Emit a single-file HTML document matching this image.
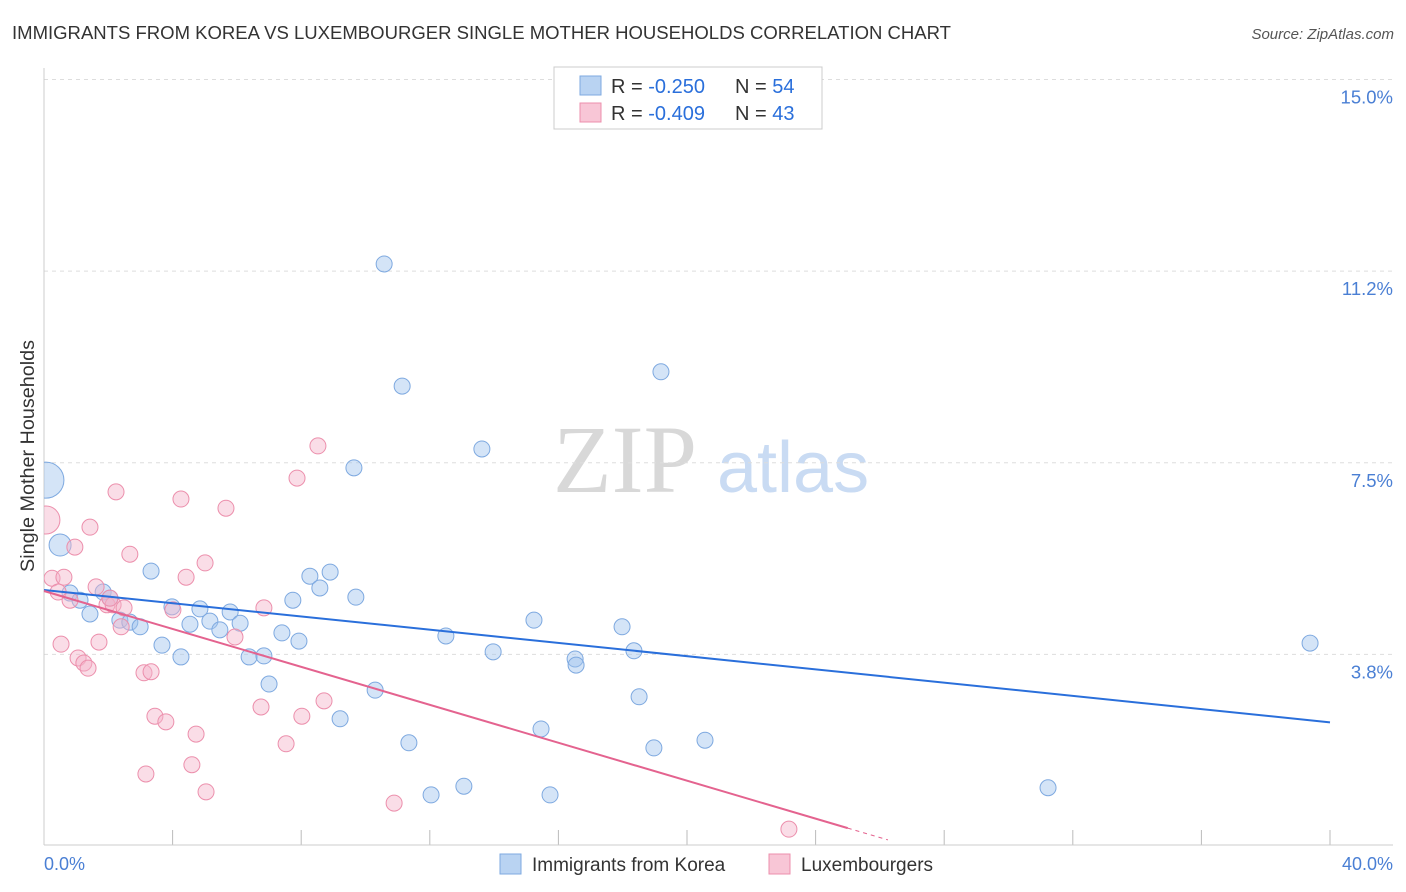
<!DOCTYPE html>
<html><head><meta charset="utf-8"><style>
body{margin:0;background:#fff;font-family:"Liberation Sans",sans-serif;}
svg{display:block}
</style></head><body>
<svg width="1406" height="892" xmlns="http://www.w3.org/2000/svg">
<defs><clipPath id="plotclip"><rect x="44" y="60" width="1360" height="786"/></clipPath></defs>
<text x="12" y="39" font-size="18" fill="#333" textLength="939" lengthAdjust="spacingAndGlyphs">IMMIGRANTS FROM KOREA VS LUXEMBOURGER SINGLE MOTHER HOUSEHOLDS CORRELATION CHART</text>
<text x="1394" y="39" font-size="15" fill="#555" font-style="italic" text-anchor="end">Source: ZipAtlas.com</text>
<g>
<text x="553" y="492" font-size="96" font-family="Liberation Serif,serif" fill="#d8d8d8">ZIP</text>
<text x="717" y="492" font-size="72" fill="#c9dbf3">atlas</text>
</g>
<g id="grid"></g>
<line x1="44" y1="68" x2="44" y2="845" stroke="#ccc"/>
<line x1="44" y1="845" x2="1393" y2="845" stroke="#ccc"/>
<text x="34" y="456" font-size="19" fill="#333" text-anchor="middle" textLength="232" lengthAdjust="spacingAndGlyphs" transform="rotate(-90 34 456)">Single Mother Households</text>
<text x="44" y="870" font-size="18" fill="#4a7fd4">0.0%</text>
<text x="1393" y="870" font-size="18" fill="#4a7fd4" text-anchor="end">40.0%</text>
<g id="pts" clip-path="url(#plotclip)"></g>
<g id="lines"></g>
<g>
<rect x="554" y="67" width="268" height="62" fill="#fff" stroke="#ccc"/>
<rect x="580" y="76" width="21" height="19" fill="#b9d3f2" stroke="#7ea9e0"/>
<rect x="580" y="103" width="21" height="19" fill="#f8c6d6" stroke="#ec8fac"/>
<text x="611" y="93" font-size="20" fill="#333">R = <tspan fill="#2a6fdb">-0.250</tspan><tspan x="735">N = </tspan><tspan fill="#2a6fdb">54</tspan></text>
<text x="611" y="120" font-size="20" fill="#333">R = <tspan fill="#2a6fdb">-0.409</tspan><tspan x="735">N = </tspan><tspan fill="#2a6fdb">43</tspan></text>
</g>
<g>
<rect x="500" y="854" width="21" height="20" fill="#b9d3f2" stroke="#7ea9e0"/>
<text x="532" y="871" font-size="19" fill="#333">Immigrants from Korea</text>
<rect x="769" y="854" width="21" height="20" fill="#f8c6d6" stroke="#ec8fac"/>
<text x="801" y="871" font-size="19" fill="#333">Luxembourgers</text>
</g>
</svg>
<script>
const yTicks=[15.0,11.2,7.5,3.8];
const yTickVals=[15,11.25,7.5,3.75];
const xTickVals=[4,8,12,16,20,24,28,32,36,40];
const blueX=[0.06,0.50,0.81,1.12,1.43,1.84,2.05,2.36,2.67,2.99,3.33,3.67,3.98,4.26,4.54,4.85,5.16,5.47,5.79,6.10,6.38,6.84,7.00,7.40,7.74,7.93,8.27,8.58,8.90,9.21,9.64,9.70,10.30,10.58,11.14,11.35,12.04,12.50,13.06,13.62,13.97,15.24,15.46,15.74,16.52,16.55,17.98,18.35,18.51,18.97,19.19,20.56,31.23,39.38];
const blueY=[7.16,5.89,4.95,4.81,4.54,4.97,4.85,4.42,4.38,4.29,5.38,3.93,4.68,3.70,4.34,4.64,4.40,4.23,4.58,4.36,3.70,3.72,3.17,4.17,4.81,4.01,5.28,5.05,5.36,2.49,7.40,4.87,3.05,11.39,9.00,2.02,1.00,4.11,1.17,7.77,3.80,4.42,2.29,1.00,3.66,3.54,4.29,3.82,2.92,1.92,9.28,2.07,1.14,3.97];
const blueSize=[18,11];
const pinkX=[0.06,0.25,0.44,0.62,0.81,0.53,0.96,1.43,1.62,1.71,1.06,1.24,1.37,1.96,2.15,2.05,2.24,2.49,2.40,2.67,3.11,3.33,3.17,3.45,3.79,4.01,4.26,4.42,4.60,4.73,5.01,5.04,5.66,5.94,6.75,6.84,7.53,7.87,8.02,8.52,8.71,10.89,23.17];
const pinkY=[6.38,5.24,4.97,5.26,4.81,3.95,5.85,6.24,5.07,3.99,3.68,3.58,3.48,4.72,4.72,4.85,6.93,4.66,4.29,5.71,3.39,3.41,1.41,2.54,2.43,4.62,6.79,5.26,1.59,2.19,5.54,1.06,6.61,4.09,2.72,4.66,2.00,7.20,2.54,7.83,2.84,0.84,0.33];
const pinkSize=[14];
const blueTrend=[5.01,2.42];
const pinkTrend=[4.99,0.35,0.12];
const pinkTrendX=[0,25.0,26.25];
const NS='http://www.w3.org/2000/svg';
const X=v=>44+v*32.15, Y=v=>846-v*51.1;
function mk(t,a,p){const e=document.createElementNS(NS,t);for(const k in a)e.setAttribute(k,a[k]);p.appendChild(e);return e;}
const grid=document.getElementById('grid');
yTickVals.forEach((v,i)=>{
 const l=mk('line',{x1:44,x2:1393,y1:Y(v),y2:Y(v),stroke:'#ddd','stroke-dasharray':'4,4'},grid);
 
 
 const t=mk('text',{x:1393,y:Y(v)+24,'font-size':18.5,fill:'#4a7fd4','text-anchor':'end'},grid);
 t.textContent=yTicks[i].toFixed(1)+'%';
 
 
});
xTickVals.forEach(v=>{
 const l=mk('line',{x1:X(v),x2:X(v),y1:830,y2:845,stroke:'#bbb'},grid);
 
 
});
const pts=document.getElementById('pts');
blueX.forEach((x,i)=>{
 const c=mk('circle',{cx:X(x),cy:Y(blueY[i]),r:blueSize[i]||8,fill:'rgba(160,195,238,0.45)',stroke:'#7ea9e0','stroke-width':1},pts);
 
 
});
pinkX.forEach((x,i)=>{
 const c=mk('circle',{cx:X(x),cy:Y(pinkY[i]),r:pinkSize[i]||8,fill:'rgba(245,180,202,0.45)',stroke:'#ec8fac','stroke-width':1},pts);
 
 
});
const lines=document.getElementById('lines');
const bl=mk('line',{x1:X(0),y1:Y(blueTrend[0]),x2:X(40),y2:Y(blueTrend[1]),stroke:'#2a6fdb','stroke-width':2},lines);


const pl=mk('line',{x1:X(pinkTrendX[0]),y1:Y(pinkTrend[0]),x2:X(pinkTrendX[1]),y2:Y(pinkTrend[1]),stroke:'#e4638f','stroke-width':2},lines);


const pd=mk('line',{x1:X(pinkTrendX[1]),y1:Y(pinkTrend[1]),x2:X(pinkTrendX[2]),y2:Y(pinkTrend[2]),stroke:'#e4638f','stroke-width':1,'stroke-dasharray':'4,4'},lines);


</script>
</body></html>
